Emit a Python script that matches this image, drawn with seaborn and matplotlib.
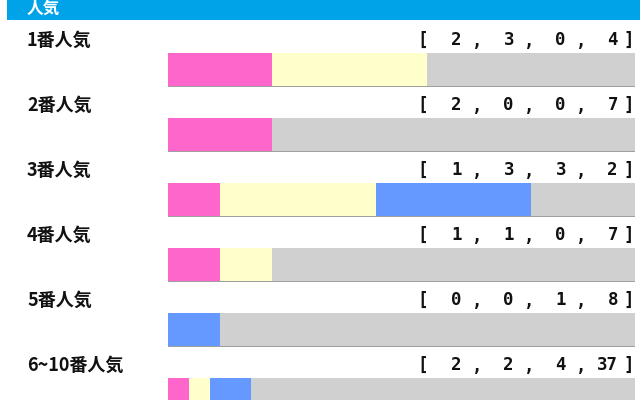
import matplotlib
matplotlib.use("Agg")
import matplotlib.pyplot as plt
import seaborn as sns
import pandas as pd
import numpy as np
from matplotlib.patches import Rectangle

categories = ["1番人気", "2番人気", "3番人気", "4番人気", "5番人気", "6~10番人気"]
first = [2, 2, 1, 1, 0, 2]
second = [3, 0, 3, 1, 0, 2]
third = [0, 0, 3, 0, 1, 4]
other = [4, 7, 2, 7, 8, 37]
title = "人気"

sns.set_theme(style="white")
plt.rcParams['font.family'] = ['Noto Sans CJK JP', 'DejaVu Sans']

W, H = 640, 400
fig = plt.figure(figsize=(6.4, 4.0), dpi=100)
ax = fig.add_axes([0, 0, 1, 1])

first_a = np.array(first, float)
second_a = np.array(second, float)
third_a = np.array(third, float)
other_a = np.array(other, float)
total = first_a + second_a + third_a + other_a

df = pd.DataFrame({
    "cat": categories,
    "c1": first_a / total,
    "c2": (first_a + second_a) / total,
    "c3": (first_a + second_a + third_a) / total,
    "c4": (first_a + second_a + third_a + other_a) / total,
})

colors = {"c4": "#D0D0D0", "c3": "#6699FF", "c2": "#FFFFCC", "c1": "#FF66CC"}
# subtle shadow under bars (shifted down slightly)
sns.barplot(data=df, x="c4", y="cat", orient="h", color="#A0A0A0", width=0.50,
            saturation=1, ax=ax, order=categories, linewidth=0)
for p in list(ax.patches):
    p.set_y(p.get_y() + 1.6 / 65)
for col in ["c4", "c3", "c2", "c1"]:
    sns.barplot(data=df, x=col, y="cat", orient="h", color=colors[col], width=0.50,
                saturation=1, ax=ax, order=categories, linewidth=0)

# pixel mapping: x=0 -> 168px, x=1 -> 635px ; row i center -> 69.5 + 65*i px
x0, x1 = 168, 635
span = x1 - x0
ax.set_xlim(-x0 / span, (W - x0) / span)
ax.set_ylim((H - 69.5) / 65, -69.5 / 65)
ax.axis("off")

def px_x(p):
    return (p - x0) / span

def px_y(p):
    return (p - 69.5) / 65

# header
ax.add_patch(Rectangle((px_x(7), px_y(0)), (W - 7) / span, 20 / 65,
                       facecolor="#00A3E8", edgecolor="none", zorder=5, clip_on=False))
ax.text(px_x(27), px_y(9), title, color="white", fontsize=12, fontweight="bold",
        ha="left", va="center", zorder=6)

num_right = [462, 514, 566, 618]
commas = [477, 529, 581]
for i, cat in enumerate(categories):
    ty = i - 29.5 / 65
    ax.text(px_x(27), ty, cat, fontsize=13, fontweight="bold", ha="left",
            va="center", color="#111111")
    vals = [first[i], second[i], third[i], other[i]]
    fnt = dict(fontsize=12.5, fontweight="bold", va="center", color="#111111",
               family="DejaVu Sans Mono")
    ax.text(px_x(423), ty, "[", ha="center", **fnt)
    for v, r in zip(vals, num_right):
        ax.text(px_x(r), ty, str(v), ha="right", **fnt)
    for c in commas:
        ax.text(px_x(c), ty + 0.03, ",", ha="center", **fnt)
    ax.text(px_x(629), ty, "]", ha="center", **fnt)

fig.savefig("out.png", dpi=100)
